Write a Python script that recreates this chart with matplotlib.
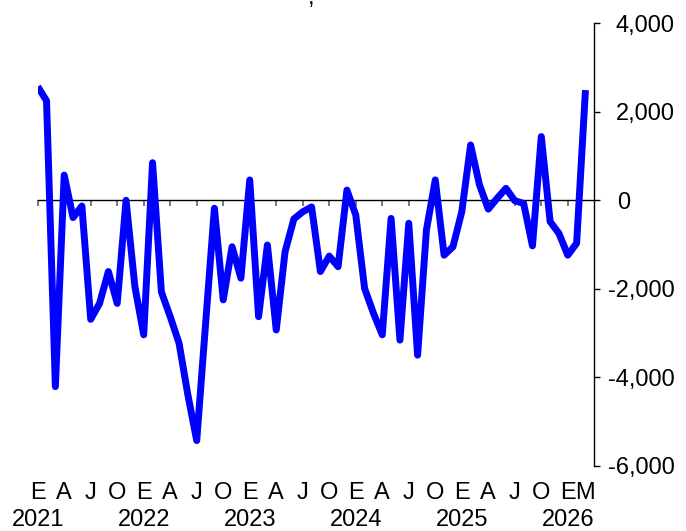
import matplotlib
matplotlib.use("Agg")
import matplotlib.pyplot as plt
import matplotlib.transforms as mtrans
import numpy as np

plt.rcParams['font.family'] = ['Liberation Sans', 'DejaVu Sans']

# Monthly values, Jan 2021 .. Mar 2026
values = [2570, 2250, -4210, 570, -390, -130, -2690, -2330, -1610, -2330, 0, -1950,
          -3040, 850, -2070, -2630, -3230, -4400, -5430, -2800, -180, -2250, -1050, -1760,
          460, -2630, -1010, -2930, -1160, -420, -260, -150, -1610, -1260, -1500, 230,
          -330, -1990, -2550, -3040, -410, -3160, -520, -3500, -670, 460, -1240, -1050,
          -260, 1250, 350, -200, 45, 270, -10, -70, -1030, 1440, -480, -750,
          -1240, -970, 2490]
month_letters = ['E', 'A', 'J', 'O'] * 5 + ['E', 'M']
month_letter_pos = list(range(0, 60, 3)) + [60, 62]
years = ['2021', '2022', '2023', '2024', '2025', '2026']
year_pos = [0, 12, 24, 36, 48, 60]
ytick_vals = [4000, 2000, 0, -2000, -4000, -6000]
ytick_labels = ['4,000', '2,000', '0', '-2,000', '-4,000', '-6,000']

W, H = 686, 531
x0, x1 = 37.7, 594.3
ytop, ybot = 23.3, 465.8

fig = plt.figure(figsize=(W / 100, H / 100), dpi=100)
ax = fig.add_axes([x0 / W, 1 - ybot / H, (x1 - x0) / W, (ybot - ytop) / H])

x = np.arange(len(values))
ax.plot(x, values, color='#0000ff', lw=5.0, solid_joinstyle='round',
        solid_capstyle='butt', zorder=3)

ax.set_xlim(0, 63)
ax.set_ylim(-6000, 4000)
for s in ['left', 'top']:
    ax.spines[s].set_visible(False)
ax.spines['bottom'].set_position(('data', 0))
ax.spines['bottom'].set_color('black')
ax.spines['bottom'].set_linewidth(1.0)
ax.spines['right'].set_color('black')
ax.spines['right'].set_linewidth(1.0)

ax.set_xticks(range(0, 61, 3))
ax.tick_params(axis='x', direction='out', length=4, width=1.1, color='#555555',
               labelbottom=False)
ax.yaxis.tick_right()
ax.set_yticks(ytick_vals)
ax.tick_params(axis='y', direction='out', length=4, width=1.0, color='black',
               labelright=False)

axw = x1 - x0
axh = ybot - ytop
ytr = mtrans.blended_transform_factory(ax.transAxes, ax.transData)
for v, lab in zip(ytick_vals, ytick_labels):
    if v == 0:
        ax.text((617 - x0) / axw, v, lab, transform=ytr, fontsize=17,
                ha='left', va='center_baseline', clip_on=False)
    else:
        ax.text((675 - x0) / axw, v, lab, transform=ytr, fontsize=17,
                ha='right', va='center_baseline', clip_on=False)

xtr = ax.get_xaxis_transform()
for p, lab in zip(month_letter_pos, month_letters):
    ax.text(p, (ybot - 499) / axh, lab, transform=xtr, fontsize=17,
            ha='center', va='baseline', clip_on=False)
for p, lab in zip(year_pos, years):
    ax.text(p, (ybot - 526.5) / axh, lab, transform=xtr, fontsize=17,
            ha='center', va='baseline', clip_on=False)

fig.text(311 / W, 1 - 4 / H, ',', fontsize=17, ha='center', va='baseline')

fig.savefig('out.png', dpi=100)
